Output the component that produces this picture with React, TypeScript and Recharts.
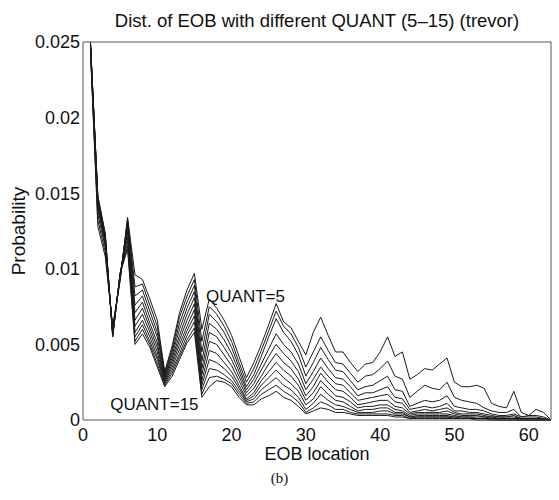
import React from "react";
import { LineChart, Line, XAxis, YAxis, ReferenceDot } from "recharts";

// EOB position in the zig-zag scan
const eobLocation = [
  1, 2, 3, 4, 5, 6, 7, 8, 9, 10, 11, 12, 13, 14, 15, 16, 17, 18, 19, 20, 21,
  22, 23, 24, 25, 26, 27, 28, 29, 30, 31, 32, 33, 34, 35, 36, 37, 38, 39, 40,
  41, 42, 43, 44, 45, 46, 47, 48, 49, 50, 51, 52, 53, 54, 55, 56, 57, 58, 59,
  60, 61, 62, 63,
];

const quants = [5, 6, 7, 8, 9, 10, 11, 12, 13, 14, 15];

// probabilities, in units of 1e-4
const q5 = [244,128,108,62,92,134,96,93,80,66,32,49,71,86,97,60,80,74,66,56,42,28,38,50,63,77,65,61,52,43,58,68,56,45,45,38,32,37,38,45,55,42,45,27,30,34,33,37,41,25,22,22,23,21,11,9,8,19,5,3,7,5,0];
const q6 = [245,132,111,61,93,133,88,90,76,62,31,47,68,82,93,52,75,70,62,52,38,25,34,46,59,72,62,57,48,35,45,55,46,38,37,31,25,29,30,34,39,29,27,15,19,23,21,20,25,15,13,12,11,8,6,5,5,7,2,3,3,2,0];
const q7 = [246,136,114,60,94,132,82,86,72,58,30,45,64,78,89,45,70,65,58,48,35,22,30,42,55,67,58,52,43,29,38,48,40,33,32,26,20,22,23,26,29,20,19,9,11,13,12,13,16,9,8,7,7,6,4,3,3,4,2,2,2,1,0];
const q8 = [247,139,116,59,95,130,76,82,68,55,29,43,60,74,85,39,64,60,53,44,32,20,27,37,47,57,50,45,37,24,32,41,34,28,27,22,16,18,18,20,22,15,14,7,8,9,8,9,11,6,6,5,5,4,3,2,2,3,1,1,1,1,0];
const q9 = [248,141,118,58,95,128,71,78,64,51,28,41,56,70,81,34,58,55,48,40,29,18,24,33,42,50,44,39,32,20,27,35,29,24,23,18,13,14,15,16,17,12,11,5,6,7,6,7,8,5,4,4,4,3,2,2,2,2,1,1,1,0,0];
const q10 = [249,143,119,57,96,126,66,74,61,48,27,39,53,66,77,30,52,50,43,36,26,16,21,29,37,44,38,34,27,16,22,31,25,20,19,15,10,11,12,13,13,9,8,4,5,5,5,5,6,4,3,3,3,2,2,1,1,1,1,1,0,0,0];
const q11 = [250,145,120,57,96,124,62,70,58,45,26,37,50,62,73,26,46,44,38,32,23,14,18,26,32,38,33,29,23,13,18,26,21,16,15,12,8,9,9,10,10,7,6,3,4,4,4,4,4,3,2,2,2,2,1,1,1,1,0,0,0,0,0];
const q12 = [250,146,121,56,97,121,58,66,55,42,25,35,47,59,69,23,40,38,34,29,21,13,16,23,28,33,28,24,19,10,14,22,17,13,12,9,6,7,7,8,8,5,5,2,3,3,3,3,3,2,2,2,1,1,1,1,1,1,0,0,0,0,0];
const q13 = [250,147,122,56,97,118,55,63,52,40,24,33,44,56,65,20,34,33,30,26,19,12,14,20,24,28,23,20,15,7,11,17,13,10,9,7,5,5,5,6,6,4,4,2,2,2,2,2,2,2,1,1,1,1,1,0,0,0,0,0,0,0,0];
const q14 = [250,148,123,55,97,115,52,60,50,37,23,31,42,53,61,17,28,29,27,24,17,11,12,17,20,23,19,16,12,5,8,12,10,7,7,5,4,4,4,4,4,3,3,1,2,2,2,2,2,1,1,1,1,1,0,0,0,0,0,0,0,0,0];
const q15 = [250,148,123,55,97,113,50,57,48,35,22,29,40,51,58,15,22,26,25,22,15,10,10,14,16,19,15,13,9,4,6,8,7,5,5,4,3,3,3,3,3,2,2,1,1,1,1,1,1,1,1,1,0,0,0,0,0,0,0,0,0,0,0];

const series = [q5, q6, q7, q8, q9, q10, q11, q12, q13, q14, q15];

const xTicks = [0, 10, 20, 30, 40, 50, 60];
const yTicks = [0, 0.005, 0.01, 0.015, 0.02, 0.025];

const data = eobLocation.map((eob, i) => {
  const row: Record<string, number> = { eob };
  quants.forEach((q, k) => {
    row[`q${q}`] = series[k][i] / 10000;
  });
  return row;
});

const font = '"Liberation Sans", Arial, Helvetica, sans-serif';
const axisColor = "#555";

export default function App() {
  return (
    <div
      style={{
        position: "absolute",
        left: 0,
        top: 0,
        width: 559,
        height: 500,
        background: "#fff",
        fontFamily: font,
      }}
    >
      <div
        style={{
          position: "absolute",
          left: 83,
          width: 468,
          top: 11,
          lineHeight: "20px",
          fontSize: 18.5,
          textAlign: "center",
          color: "#111",
        }}
      >
        Dist. of EOB with different QUANT (5–15) (trevor)
      </div>

      <LineChart
        width={559}
        height={500}
        data={data}
        margin={{ top: 42, right: 8, bottom: 40, left: 0 }}
      >
        <XAxis
          xAxisId="x"
          dataKey="eob"
          type="number"
          domain={[0, 63]}
          ticks={xTicks}
          tickLine={false}
          tickSize={0}
          tickMargin={8}
          height={40}
          axisLine={{ stroke: axisColor }}
          tick={{ fontSize: 18, fill: "#111", fontFamily: font }}
          label={{
            value: "EOB location",
            position: "insideBottom",
            offset: 0,
            fontSize: 18,
            fill: "#111",
            fontFamily: font,
          }}
        />
        <XAxis
          xAxisId="xin"
          dataKey="eob"
          type="number"
          domain={[0, 63]}
          ticks={xTicks}
          mirror
          tick={false}
          tickSize={5}
          axisLine={false}
          tickLine={{ stroke: axisColor }}
        />
        <XAxis
          xAxisId="xtop"
          dataKey="eob"
          type="number"
          orientation="top"
          domain={[0, 63]}
          ticks={xTicks}
          mirror
          tick={false}
          tickSize={5}
          axisLine={{ stroke: axisColor }}
          tickLine={{ stroke: axisColor }}
        />
        <YAxis
          yAxisId="y"
          type="number"
          domain={[0, 0.025]}
          ticks={yTicks}
          width={83}
          tickLine={false}
          tickSize={0}
          tickMargin={3}
          axisLine={{ stroke: axisColor }}
          tick={{ fontSize: 18, fill: "#111", fontFamily: font }}
          label={{
            value: "Probability",
            angle: -90,
            position: "insideLeft",
            offset: 18,
            fontSize: 19,
            fill: "#111",
            fontFamily: font,
            style: { textAnchor: "middle" },
          }}
        />
        <YAxis
          yAxisId="yin"
          type="number"
          domain={[0, 0.025]}
          ticks={yTicks}
          mirror
          tick={false}
          tickSize={5}
          axisLine={false}
          tickLine={{ stroke: axisColor }}
        />
        <YAxis
          yAxisId="yright"
          type="number"
          orientation="right"
          domain={[0, 0.025]}
          ticks={yTicks}
          mirror
          tick={false}
          tickSize={5}
          axisLine={{ stroke: axisColor }}
          tickLine={{ stroke: axisColor }}
        />

        {quants.map((q) => (
          <Line
            key={q}
            xAxisId="x"
            yAxisId="y"
            dataKey={`q${q}`}
            stroke="#1a1a1a"
            strokeWidth={1}
            dot={false}
            isAnimationActive={false}
          />
        ))}

        <ReferenceDot
          xAxisId="x"
          yAxisId="y"
          x={16.5}
          y={0.0082}
          r={0.5}
          fill="none"
          stroke="none"
          label={{
            value: "QUANT=5",
            position: "right",
            offset: 0,
            fontSize: 17,
            fill: "#111",
            fontFamily: font,
          }}
        />
        <ReferenceDot
          xAxisId="x"
          yAxisId="y"
          x={3.6}
          y={0.00105}
          r={0.5}
          fill="none"
          stroke="none"
          label={{
            value: "QUANT=15",
            position: "right",
            offset: 0,
            fontSize: 17,
            fill: "#111",
            fontFamily: font,
          }}
        />
      </LineChart>

      <div
        style={{
          position: "absolute",
          left: 0,
          width: 559,
          top: 469,
          lineHeight: "18px",
          fontSize: 15,
          textAlign: "center",
          fontFamily: '"Liberation Serif", "Times New Roman", serif',
          color: "#111",
        }}
      >
        (b)
      </div>
    </div>
  );
}
